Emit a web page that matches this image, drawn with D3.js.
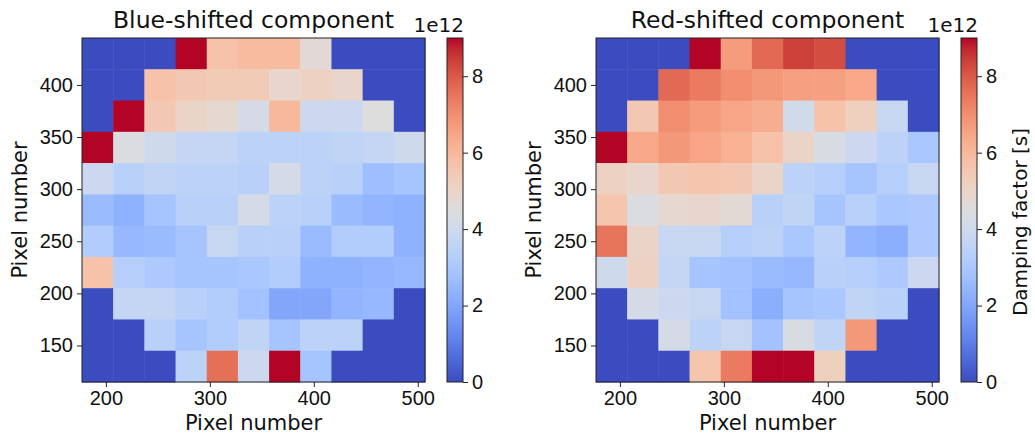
<!DOCTYPE html>
<html>
<head>
<meta charset="utf-8">
<style>
  body { margin: 0; background: #fff; }
  svg { font-family: "DejaVu Sans", sans-serif; }
  .axis path, .axis line { stroke: #222; }
  .axis text { font-size: 20px; fill: #111; }
  .title { font-size: 23.5px; fill: #111; }
  .label { font-size: 21px; fill: #111; }
</style>
<script src="https://d3js.org/d3.v7.min.js"></script>
</head>
<body>
<script>
// cell centres (pixel number)
var xCenters = [192, 222, 252, 282, 312, 342, 372, 402, 432, 462, 492];
var yCenters = [430, 400, 370, 340, 310, 280, 250, 220, 190, 160, 130]; // top row first
var xTicks = [200, 300, 400, 500];
var yTicks = [150, 200, 250, 300, 350, 400];
var cbarTicks = [0, 2, 4, 6, 8];

// damping factor in units of 1e12 s, rows from top to bottom
var blueValues = [
  [0, 0, 0, 9.5, 5.7, 5.9, 5.9, 4.7, 0, 0, 0],
  [0, 0, 5.7, 5.5, 5.4, 5.4, 4.9, 5.1, 4.9, 0, 0],
  [0, 9.5, 5.5, 5.0, 4.8, 4.2, 6.0, 3.9, 3.9, 4.5, 0],
  [9.5, 4.4, 4.0, 3.7, 3.7, 3.5, 3.5, 3.5, 3.6, 3.7, 4.0],
  [3.9, 3.4, 3.6, 3.5, 3.5, 3.4, 4.2, 3.5, 3.4, 2.7, 2.9],
  [2.6, 2.3, 2.9, 3.4, 3.4, 4.2, 3.5, 3.4, 2.6, 2.4, 2.3],
  [3.2, 2.5, 2.6, 2.9, 3.8, 3.4, 3.4, 2.6, 3.2, 3.2, 2.3],
  [5.7, 3.3, 3.1, 2.9, 2.9, 3.0, 3.2, 2.3, 2.3, 2.4, 2.5],
  [0, 3.7, 3.7, 3.4, 3.2, 2.8, 2.0, 2.0, 2.4, 2.5, 0],
  [0, 0, 3.4, 2.9, 3.2, 3.6, 2.9, 3.5, 3.5, 0, 0],
  [0, 0, 0, 3.5, 7.6, 3.9, 9.5, 2.9, 0, 0, 0]
];
var redValues = [
  [0, 0, 0, 9.5, 6.7, 7.7, 8.4, 8.2, 0, 0, 0],
  [0, 0, 7.7, 7.4, 7.0, 6.8, 6.6, 6.6, 6.4, 0, 0],
  [0, 5.5, 7.0, 6.7, 6.5, 6.3, 4.1, 5.7, 5.2, 3.8, 0],
  [9.5, 6.4, 6.8, 6.5, 6.2, 5.7, 5.0, 4.3, 3.9, 3.5, 3.0],
  [5.1, 4.9, 5.5, 5.6, 5.5, 5.0, 3.5, 3.3, 2.9, 3.3, 3.8],
  [5.6, 4.4, 4.8, 4.9, 4.7, 3.4, 3.6, 2.9, 3.4, 3.0, 3.1],
  [7.5, 5.0, 3.8, 3.8, 3.3, 3.5, 3.0, 3.5, 2.4, 2.2, 3.1],
  [4.0, 5.1, 3.7, 2.9, 2.8, 2.6, 2.5, 3.4, 3.3, 3.1, 3.9],
  [0, 4.2, 3.9, 3.8, 2.8, 2.2, 2.9, 3.0, 3.6, 3.4, 0],
  [0, 0, 4.2, 3.5, 3.8, 2.8, 4.3, 3.6, 6.8, 0, 0],
  [0, 0, 0, 5.6, 7.4, 9.5, 9.5, 5.2, 0, 0, 0]
];

// matplotlib "coolwarm"
var coolwarm = ['#3b4cc0', '#445acc', '#4d68d7', '#5775e1', '#6282ea', '#6c8ef1',
  '#779af7', '#82a5fb', '#8db0fe', '#98b9ff', '#a3c2ff', '#aec9fd', '#b8d0f9',
  '#c2d5f4', '#ccd9ee', '#d5dbe6', '#dddddd', '#e5d8d1', '#ecd3c5', '#f1cdb9',
  '#f5c4ad', '#f7bba0', '#f7b194', '#f7a687', '#f49a7b', '#f18d6f', '#ec7f63',
  '#e57058', '#de604d', '#d55042', '#cb3e38', '#c0282f', '#b40426'];

var vmax = 9;
var color = d3.scaleLinear()
  .domain(coolwarm.map((c, i) => i / (coolwarm.length - 1) * vmax))
  .range(coolwarm)
  .clamp(true);

var svg = d3.select('body').append('svg')
  .attr('width', 1035)
  .attr('height', 435);

var defs = svg.append('defs');
var grad = defs.append('linearGradient')
  .attr('id', 'cw')
  .attr('x1', 0).attr('x2', 0).attr('y1', 1).attr('y2', 0);
grad.selectAll('stop').data(coolwarm).enter().append('stop')
  .attr('offset', (d, i) => i / (coolwarm.length - 1))
  .attr('stop-color', d => d);

var plotTop = 38, plotBottom = 382;

function panel(left, right, cbLeft, title, values, showLabel) {
  var x = d3.scaleLinear().domain([177, 507]).range([left, right]);
  var y = d3.scaleLinear().domain([115, 445]).range([plotBottom, plotTop]);
  var g = svg.append('g');

  var rows = g.selectAll('g.row').data(values).enter().append('g')
    .attr('class', 'row');
  rows.each(function(row, ri) {
    d3.select(this).selectAll('rect').data(row).enter().append('rect')
      .attr('x', (d, ci) => x(xCenters[ci] - 15))
      .attr('width', (d, ci) => x(xCenters[ci] + 15) - x(xCenters[ci] - 15) + 0.5)
      .attr('y', y(yCenters[ri] + 15))
      .attr('height', y(yCenters[ri] - 15) - y(yCenters[ri] + 15) + 0.5)
      .attr('fill', d => color(d));
  });

  g.append('rect')
    .attr('x', left).attr('y', plotTop)
    .attr('width', right - left).attr('height', plotBottom - plotTop)
    .attr('fill', 'none').attr('stroke', '#222').attr('stroke-width', 1);

  g.append('g').attr('class', 'axis')
    .attr('transform', 'translate(0,' + plotBottom + ')')
    .call(d3.axisBottom(x).tickValues(xTicks).tickSize(5).tickPadding(4).tickSizeOuter(0))
    .call(a => a.select('.domain').remove());

  g.append('g').attr('class', 'axis')
    .attr('transform', 'translate(' + left + ',0)')
    .call(d3.axisLeft(y).tickValues(yTicks).tickSize(5).tickPadding(4).tickSizeOuter(0))
    .call(a => a.select('.domain').remove());

  g.append('text').attr('class', 'title')
    .attr('x', (left + right) / 2).attr('y', 28)
    .attr('text-anchor', 'middle')
    .text(title);

  g.append('text').attr('class', 'label')
    .attr('x', (left + right) / 2).attr('y', 430)
    .attr('text-anchor', 'middle')
    .text('Pixel number');

  g.append('text').attr('class', 'label')
    .attr('transform', 'translate(' + (left - 55) + ',' + ((plotTop + plotBottom) / 2) + ') rotate(-90)')
    .attr('text-anchor', 'middle')
    .text('Pixel number');

  // colorbar
  var cbW = 16;
  var cy = d3.scaleLinear().domain([0, vmax]).range([plotBottom, plotTop]);
  g.append('rect')
    .attr('x', cbLeft).attr('y', plotTop)
    .attr('width', cbW).attr('height', plotBottom - plotTop)
    .attr('fill', 'url(#cw)')
    .attr('stroke', '#222').attr('stroke-width', 1);

  g.append('g').attr('class', 'axis')
    .attr('transform', 'translate(' + (cbLeft + cbW) + ',0)')
    .call(d3.axisRight(cy).tickValues(cbarTicks).tickSize(5).tickPadding(4).tickSizeOuter(0))
    .call(a => a.select('.domain').remove());

  g.append('text')
    .attr('x', cbLeft + cbW + 1).attr('y', 32)
    .attr('text-anchor', 'end')
    .style('font-size', '20px').style('fill', '#111')
    .text('1e12');

  if (showLabel) {
    g.append('text').attr('class', 'label')
      .style('font-size', '20px')
      .attr('transform', 'translate(' + (cbLeft + cbW + 50) + ',' + 222 + ') rotate(-90)')
      .attr('text-anchor', 'middle')
      .text('Damping factor [s]');
  }
}

panel(82, 425, 447, 'Blue-shifted component', blueValues, false);
panel(596, 939, 961, 'Red-shifted component', redValues, true);
</script>
</body>
</html>
